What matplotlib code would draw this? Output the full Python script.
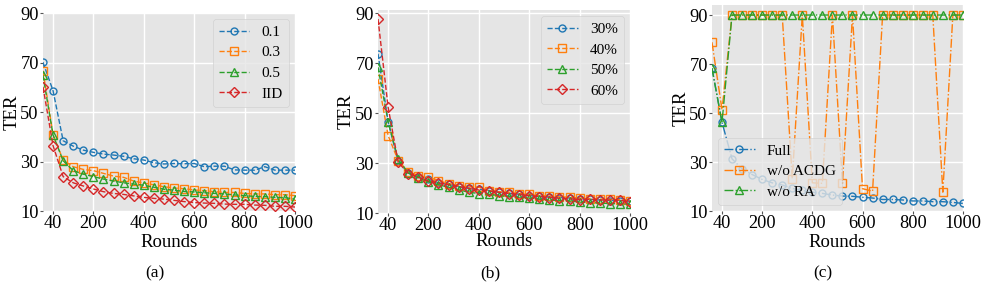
import matplotlib
matplotlib.use("Agg")
import matplotlib.pyplot as plt

plt.style.use("ggplot")
plt.rcParams["font.family"] = ["Liberation Serif", "DejaVu Serif"]
plt.rcParams["axes.unicode_minus"] = False

rounds = list(range(0, 1001, 40))
xticks = [40, 200, 400, 600, 800, 1000]
yticks = [10, 30, 50, 70, 90]

# (a) non-IID degree
a_labels = ["0.1", "0.3", "0.5", "IID"]
a_01 = [70.1, 58.6, 38.4, 36.2, 34.6, 33.7, 33.0, 32.6, 32.1, 31.1, 30.6, 29.5, 29.0, 29.2,
        29.1, 29.2, 27.9, 28.1, 28.1, 26.6, 26.5, 26.5, 27.9, 26.5, 26.5, 26.5]
a_03 = [66.7, 40.7, 30.6, 27.9, 26.8, 26.3, 25.2, 24.1, 23.6, 22.1, 21.3, 20.6, 19.8, 19.3,
        19.0, 18.5, 18.2, 17.8, 17.5, 17.5, 17.1, 16.9, 16.9, 16.6, 16.6, 16.2]
a_05 = [64.8, 40.7, 30.3, 26.3, 24.9, 23.9, 22.9, 22.1, 21.4, 20.9, 20.4, 19.6, 18.8, 18.4,
        17.9, 17.7, 17.4, 17.1, 16.9, 16.5, 16.2, 15.9, 15.8, 15.5, 15.4, 14.8]
a_iid = [60.2, 36.4, 23.9, 21.4, 20.1, 18.9, 17.8, 17.1, 16.7, 16.1, 15.5, 15.1, 14.8, 14.3,
         13.8, 13.4, 13.2, 13.1, 12.8, 12.7, 12.7, 12.4, 12.3, 11.9, 11.9, 11.6]

# (b) participation ratio
b_labels = ["30%", "40%", "50%", "60%"]
b_30 = [73.7, 46.5, 30.7, 26.0, 24.5, 23.5, 22.0, 21.5, 20.5, 20.0, 19.5, 19.0, 18.3, 17.9,
        17.5, 17.0, 16.7, 16.4, 16.2, 16.0, 15.7, 15.5, 15.2, 15.0, 15.0, 14.8]
b_40 = [63.6, 41.0, 31.0, 26.5, 25.0, 24.3, 23.0, 21.7, 21.0, 20.5, 20.3, 19.0, 18.5, 18.3,
        17.8, 17.5, 17.0, 16.8, 16.5, 16.3, 16.0, 15.8, 15.6, 15.5, 15.3, 15.0]
b_50 = [68.3, 46.5, 31.5, 26.0, 24.0, 22.5, 21.3, 20.3, 19.3, 18.3, 17.8, 17.5, 17.0, 16.6,
        16.3, 16.0, 15.6, 15.2, 15.0, 14.8, 14.4, 14.2, 14.0, 13.8, 13.7, 13.5]
b_60 = [87.6, 52.4, 30.3, 25.8, 24.3, 22.8, 22.0, 21.3, 20.6, 19.8, 19.2, 18.8, 18.3, 17.8,
        17.4, 16.9, 16.6, 16.2, 15.9, 15.7, 15.3, 15.5, 15.2, 15.2, 15.1, 14.4]

# (c) ablation
c_labels = ["Full", "w/o ACDG", "w/o RA"]
c_full = [68.3, 46.2, 31.3, 27.2, 24.9, 22.9, 21.5, 20.6, 19.2, 18.4, 17.7, 17.2, 16.5, 16.1,
          16.0, 15.6, 15.3, 14.7, 14.7, 14.5, 14.1, 14.1, 13.8, 13.8, 13.5, 13.1]
c_acdg = [78.9, 51.4, 90, 90, 90, 90, 90, 90, 23.2, 90, 21.5, 21.3, 90, 21.3,
          90, 19.1, 18.1, 90, 90, 90, 90, 90, 90, 17.7, 90, 90]
c_ra = [68.3, 46.2, 90, 90, 90, 90, 90, 90, 90, 90, 90, 90, 90, 90,
        90, 90, 90, 90, 90, 90, 90, 90, 90, 90, 90, 90]

colors = ["#1f77b4", "#ff7f0e", "#2ca02c", "#d62728"]
markers = ["o", "s", "^", "D"]
msizes = [5, 5.5, 5.5, 5]

fig = plt.figure(figsize=(9.88, 2.87), dpi=100)
rects = [[0.0435, 0.2648, 0.2551, 0.6899],
         [0.3826, 0.2578, 0.2551, 0.7073],
         [0.7206, 0.2648, 0.2540, 0.7178]]
ylims = [(10, 90), (10, 91.2), (10, 94.1)]
panels = [
    (a_labels, [a_01, a_03, a_05, a_iid], "--", "upper right"),
    (b_labels, [b_30, b_40, b_50, b_60], "--", "upper right"),
    (c_labels, [c_full, c_acdg, c_ra], "-.", "lower left"),
]
captions = ["(a)", "(b)", "(c)"]
cap_x = [155, 490, 823]
ylab_x = [-0.121, -0.127, -0.124]
xlab_y = [-0.115, -0.1, -0.11]

for i, (labels, series, ls, loc) in enumerate(panels):
    ax = fig.add_axes(rects[i])
    for j, (lab, ys) in enumerate(zip(labels, series)):
        ax.plot(rounds, ys, linestyle=ls, color=colors[j], marker=markers[j],
                markersize=msizes[j], markerfacecolor="none", markeredgewidth=1.0,
                linewidth=1.0, label=lab)
    ax.set_xlim(0, 1000)
    ax.set_ylim(*ylims[i])
    ax.set_xticks(xticks)
    ax.set_yticks(yticks)
    ax.tick_params(labelsize=13.2, colors="#555555", labelcolor="black", length=2, pad=1)
    ax.set_xlabel("Rounds", fontsize=13.5, color="black", va="top")
    ax.set_ylabel("TER", fontsize=13.5, color="black", va="center")
    ax.xaxis.set_label_coords(0.5, xlab_y[i])
    ax.yaxis.set_label_coords(ylab_x[i], 0.5)
    for s in ax.spines.values():
        s.set_visible(False)
    ax.grid(True, color="white", linewidth=1.0)
    leg = ax.legend(loc=loc, fontsize=11, facecolor="#E5E5E5", edgecolor="#CCCCCC",
                    framealpha=0.8, borderaxespad=0.4, handlelength=2.0,
                    labelspacing=0.45)
    for t in leg.get_texts():
        t.set_color("black")
    fig.text(cap_x[i] / 988, 1 - 273 / 287, captions[i], ha="center", va="center",
             fontsize=12.5, color="black")

fig.savefig("out.png", dpi=100)
